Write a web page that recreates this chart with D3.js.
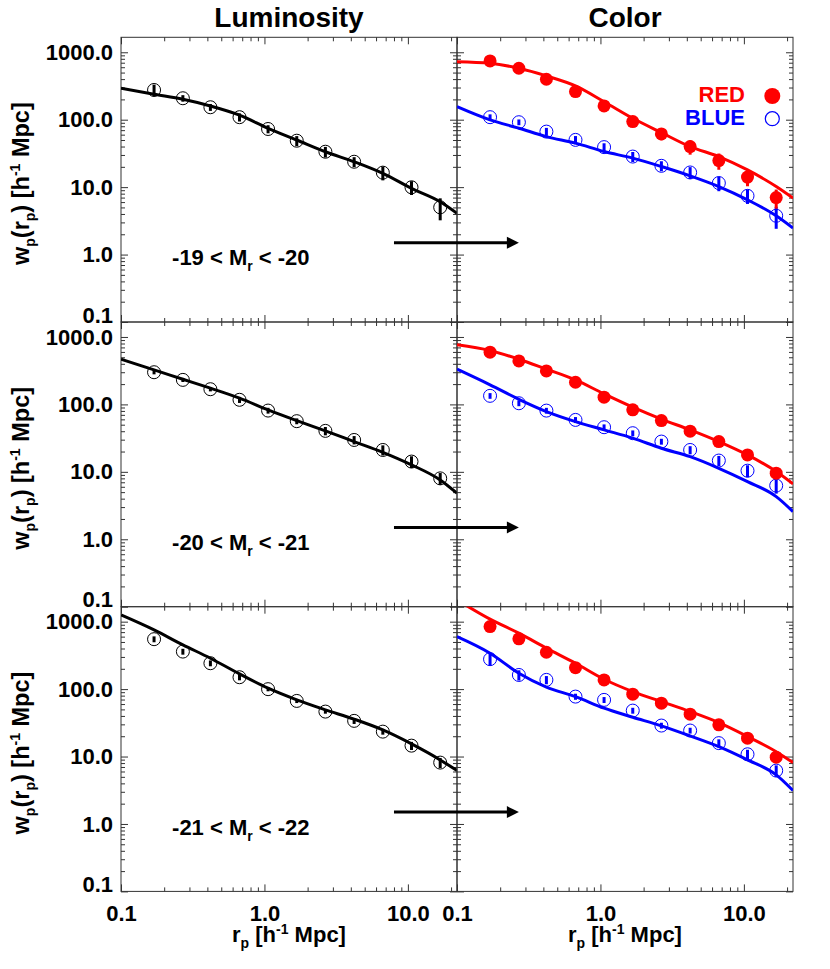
<!DOCTYPE html>
<html>
<head>
<meta charset="utf-8">
<script src="https://cdn.jsdelivr.net/npm/d3@7"></script>
<style>
  body { margin: 0; background: #fff; }
  svg text { font-family: "Liberation Sans", Arial, Helvetica, sans-serif; font-weight: bold; fill: #000; }
  .axis text { font-size: 22px; }
</style>
</head>
<body>
<svg id="chart" width="830" height="969"></svg>
<script>
// radial bins (h^-1 Mpc) of the measurements and the grid the model curves are read on
const rBins = [0.17, 0.27, 0.42, 0.67, 1.06, 1.68, 2.66, 4.22, 6.69, 10.6, 16.8];
const rModel = [0.1, 0.17, 0.27, 0.42, 0.67, 1.06, 1.68, 2.66, 4.22, 6.69, 10.6, 16.8, 22];

const magBins = [["-19", "-20"], ["-20", "-21"], ["-21", "-22"]];
const columnTitles = ["Luminosity", "Color"];

// luminosity samples: wp values, errors, model
const lum19 = [276, 208, 153, 109, 72.8, 48.8, 33.5, 23.8, 16.4, 9.95, 5.02];
const lum19Err = [55, 23, 18, 15, 10, 8.3, 6, 4, 3.8, 2.3, 1.8];
const lum19Model = [292, 238, 201, 160, 117, 74.6, 50, 33.5, 23.8, 16.0, 9.6, 6.08, 4.09];
const lum20 = [300, 231, 168, 117, 81, 56.4, 40.5, 29.7, 21.1, 14.2, 8.0];
const lum20Err = [21, 16, 12, 12, 8, 5.6, 5.7, 4.2, 3.6, 2.8, 1.6];
const lum20Model = [468, 325, 236, 174, 124, 83, 57.5, 40.5, 28.1, 19.5, 12.7, 7.59, 4.82];
const lum21 = [550, 360, 242, 150, 99.8, 66.8, 46.4, 33.8, 23.4, 14.5, 8.13];
const lum21Err = [55, 36, 24, 15, 7, 4.7, 3.2, 3.4, 2.3, 2, 1.4];
const lum21Model = [1259, 755, 453, 287, 168, 103, 69.2, 49.2, 35.8, 24.8, 15.4, 8.91, 6.19];

// color samples
const red19 = [743, 579, 398, 261, 160, 93.8, 61.6, 39.9, 24.8, 14.1, 7.0];
const red19Err = [74, 58, 40, 26, 16, 13, 12, 9.6, 6.7, 3.8, 2.2];
const red19Model = [726, 687, 579, 446, 317, 185, 105, 64.4, 39.9, 28.4, 18.0, 10.2, 6.87];
const blue19 = [109, 91.8, 66.6, 50.2, 39.2, 28.4, 20.7, 16.5, 11.5, 7.43, 3.76];
const blue19Err = [11, 9, 9, 7, 5.5, 4.8, 3.5, 3.3, 2.8, 1.8, 1.35];
const blue19Model = [156, 99.3, 74.8, 56.2, 44.9, 33.7, 26.9, 20.2, 14.7, 10.2, 6.49, 3.76, 2.47];

const red20 = [594, 442, 314, 213, 128, 83, 57.5, 40.1, 28.1, 17.8, 9.55];
const red20Err = [40, 30, 22, 15, 9, 6, 4, 3, 2.8, 1.8, 1.0];
const red20Model = [764, 628, 468, 333, 231, 143, 90.9, 60.4, 41.9, 28.1, 17.8, 10.1, 6.62];
const blue20 = [134, 104, 80.9, 58.9, 45.9, 37.4, 28.1, 21.1, 14.7, 10.4, 6.25];
const blue20Err = [13, 10, 8, 6, 4.6, 3.7, 2.8, 2.9, 2.5, 2.1, 1.5];
const blue20Model = [333, 195, 119, 78.3, 55.6, 41.9, 31.6, 22.4, 16.8, 11.3, 7.17, 4.29, 2.57];

const red21 = [845, 556, 352, 208, 137, 84.1, 61.8, 42.5, 29.5, 18.7, 9.77];
const red21Err = [60, 40, 25, 15, 10, 6, 4.3, 3, 2.1, 1.3, 0.7];
const red21Model = [2104, 1089, 675, 405, 242, 140, 91.8, 65.3, 46.4, 31.8, 19.8, 11.8, 8.13];
const blue21 = [278, 162, 137, 77.4, 69.2, 48, 28.8, 24.3, 15.8, 10.8, 6.19];
const blue21Err = [56, 28, 19, 8, 7, 4.8, 2.9, 2.4, 2.2, 1.8, 1.2];
const blue21Model = [601, 341, 172, 107, 77.4, 52.1, 38.3, 28.5, 20.2, 14.0, 8.91, 5.35, 3.13];

const rows = [
  { lum: [lum19, lum19Err, lum19Model], red: [red19, red19Err, red19Model], blue: [blue19, blue19Err, blue19Model] },
  { lum: [lum20, lum20Err, lum20Model], red: [red20, red20Err, red20Model], blue: [blue20, blue20Err, blue20Model] },
  { lum: [lum21, lum21Err, lum21Model], red: [red21, red21Err, red21Model], blue: [blue21, blue21Err, blue21Model] },
];

const plotLeft = 121, plotTop = 37.3;
const panelW = 336, panelH = 284.7;
const frameColor = "#333";
const fmt = d3.format(".1f");

const svg = d3.select("#chart");
const x = d3.scaleLog().domain([0.1, 22]).range([0, panelW]);
const y = d3.scaleLog().domain([0.1, 1667]).range([panelH, 0]);

function logTicks(lo, hi) {
  const out = [];
  for (let e = Math.floor(Math.log10(lo)); e <= Math.ceil(Math.log10(hi)); e++) {
    for (let k = 1; k < 10; k++) {
      const v = +(k * Math.pow(10, e)).toPrecision(3);
      if (v >= lo * 0.999 && v <= hi * 1.001) out.push({ v, major: k === 1 });
    }
  }
  return out;
}
const xTicks = logTicks(0.1, 22);
const yTicks = logTicks(0.1, 1667);

function addAxis(g, axisFn, scale, ticks, transform, labels) {
  const minor = axisFn(scale).tickValues(ticks.filter((t) => !t.major).map((t) => t.v))
    .tickSizeInner(-4).tickSizeOuter(0).tickFormat("");
  const major = axisFn(scale).tickValues(ticks.filter((t) => t.major).map((t) => t.v))
    .tickSizeInner(-7).tickSizeOuter(0).tickPadding(labels ? labels.pad : 3)
    .tickFormat(labels ? fmt : "");
  [minor, major].forEach((a) => {
    const ag = g.append("g").attr("class", "axis").attr("transform", transform).attr("color", frameColor).call(a);
    ag.select(".domain").remove();
    ag.selectAll(".tick line").attr("stroke-width", 1);
    if (labels && labels.fix) labels.fix(ag);
  });
}

function appendSubText(sel, parts, sub = 6, sup = -9) {
  // parts: [text, kind] with kind "", "sub" or "sup"
  let shift = 0;
  parts.forEach(([t, kind]) => {
    const target = kind === "sub" ? sub : kind === "sup" ? sup : 0;
    sel.append("tspan")
      .attr("dy", target - shift)
      .attr("font-size", kind ? 14 : null)
      .text(t);
    shift = target;
  });
}

const line = d3.line().x((d) => x(d[0])).y((d) => y(d[1])).curve(d3.curveMonotoneX);

rows.forEach((row, ri) => {
  [0, 1].forEach((ci) => {
    const g = svg.append("g").attr("transform", `translate(${plotLeft + ci * panelW},${plotTop + ri * panelH})`);
    const clipId = `clip-${ri}-${ci}`;
    g.append("clipPath").attr("id", clipId).append("rect").attr("width", panelW).attr("height", panelH);

    addAxis(g, d3.axisLeft, y, yTicks, null, ci === 0 ? {
      pad: 8,
      fix: (ag) => ag.selectAll(".tick text").filter((d) => d === 0.1).attr("dy", "0em"),
    } : null);
    addAxis(g, d3.axisRight, y, yTicks, `translate(${panelW},0)`, null);
    addAxis(g, d3.axisTop, x, xTicks, null, null);
    addAxis(g, d3.axisBottom, x, xTicks, `translate(0,${panelH})`, ri === 2 ? { pad: 14 } : null);

    g.append("rect").attr("width", panelW).attr("height", panelH)
      .attr("fill", "none").attr("stroke", frameColor).attr("stroke-width", 1);

    const series = ci === 0
      ? [{ data: row.lum, color: "#000", filled: false }]
      : [{ data: row.blue, color: "#0000ff", filled: false }, { data: row.red, color: "#ff0000", filled: true }];

    series.forEach((s) => {
      const [vals, errs, model] = s.data;
      g.append("path")
        .attr("clip-path", `url(#${clipId})`)
        .attr("d", line(rModel.map((r, i) => [r, model[i]])))
        .attr("fill", "none").attr("stroke", s.color).attr("stroke-width", 3);

      const pts = rBins.map((r, i) => ({ r, v: vals[i], e: errs[i] }));
      g.selectAll(null).data(pts).join("circle")
        .attr("cx", (d) => x(d.r)).attr("cy", (d) => y(d.v))
        .attr("r", 6.5)
        .attr("fill", s.filled ? s.color : "none")
        .attr("stroke", s.filled ? "none" : s.color)
        .attr("stroke-width", 1);
      g.selectAll(null).data(pts).join("line")
        .attr("x1", (d) => x(d.r)).attr("x2", (d) => x(d.r))
        .attr("y1", (d) => y(Math.max(d.v - d.e, 0.11))).attr("y2", (d) => y(d.v + d.e))
        .attr("stroke", s.color).attr("stroke-width", 3);
    });

    if (ci === 0) {
      const lab = g.append("text").attr("x", x(0.227)).attr("y", y(0.69)).attr("font-size", 22);
      appendSubText(lab, [[`${magBins[ri][0]} < M`, ""], ["r", "sub"], [` < ${magBins[ri][1]}`, ""]]);

      const yt = svg.append("text")
        .attr("transform", `translate(29,${plotTop + ri * panelH + panelH / 2 + 4}) rotate(-90)`)
        .attr("text-anchor", "middle").attr("font-size", 23.5);
      appendSubText(yt, [["w", ""], ["p", "sub"], ["(r", ""], ["p", "sub"], [") [h", ""], ["-1", "sup"], [" Mpc]", ""]]);
    }

    if (ri === 0 && ci === 1) {
      const legend = [["RED", "#ff0000", true, 8], ["BLUE", "#0000ff", false, 7]];
      legend.forEach(([name, color, filled, rad], i) => {
        g.append("text").attr("x", 288).attr("y", 64.4 + i * 23.3)
          .attr("text-anchor", "end").attr("font-size", 22).style("fill", color).text(name);
        g.append("circle").attr("cx", 315.3).attr("cy", 58.7 + i * 22.7).attr("r", rad)
          .attr("fill", filled ? color : "none").attr("stroke", filled ? "none" : color).attr("stroke-width", 1.2);
      });
    }
  });

  // arrow from the luminosity panel to the color panel
  const ay = plotTop + ri * panelH + y(1.5);
  const ax1 = plotLeft + x(8);
  const ax2 = plotLeft + panelW + x(0.27);
  svg.append("line").attr("x1", ax1).attr("x2", ax2 - 10).attr("y1", ay).attr("y2", ay)
    .attr("stroke", "#000").attr("stroke-width", 3);
  svg.append("path").attr("d", `M${ax2},${ay} L${ax2 - 12},${ay - 6} L${ax2 - 12},${ay + 6} Z`).attr("fill", "#000");
});

columnTitles.forEach((t, ci) => {
  svg.append("text").attr("x", plotLeft + ci * panelW + panelW / 2).attr("y", 27)
    .attr("text-anchor", "middle").attr("font-size", 28).text(t);
  const xt = svg.append("text").attr("x", plotLeft + ci * panelW + panelW / 2).attr("y", 942)
    .attr("text-anchor", "middle").attr("font-size", 22);
  appendSubText(xt, [["r", ""], ["p", "sub"], [" [h", ""], ["-1", "sup"], [" Mpc]", ""]], 6, -8);
});
</script>
</body>
</html>
